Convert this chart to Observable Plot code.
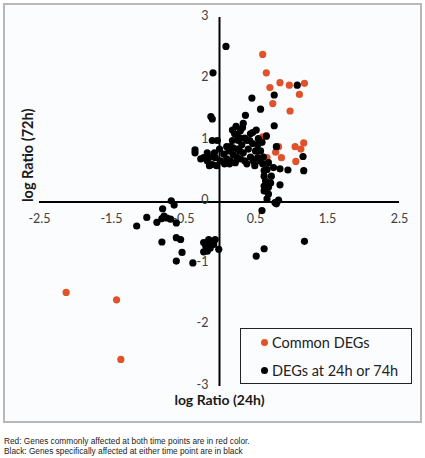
<!DOCTYPE html>
<html>
<head>
<meta charset="utf-8">
<script src="https://cdn.jsdelivr.net/npm/d3@7"></script>
<script src="https://cdn.jsdelivr.net/npm/@observablehq/plot@0.6"></script>
<style>
  html, body { margin: 0; padding: 0; background: #ffffff; }
  #wrap { position: relative; width: 425px; height: 458px; }
  #frame { position: absolute; left: 3px; top: 3px; width: 415px; height: 416px;
           border: 2px solid #b8b8b8; background: #fbfcfe; }
  #chart { position: absolute; left: 0; top: 0; }
  #legend { position: absolute; left: 240px; top: 328px; width: 170px; height: 54px;
            border: 1.3px solid #222; background: #fbfcfe;
            font-family: Lato, "Open Sans", sans-serif; font-size: 14.5px; color: #222; }
  .item { position: absolute; left: 20px; height: 18px; line-height: 18px; white-space: nowrap; }
  .dot { display: inline-block; width: 7px; height: 7px; border-radius: 50%; margin-right: 4px; vertical-align: 2px; }
  #caption { position: absolute; left: 4px; top: 437px; font-family: "Liberation Sans", Arial, sans-serif;
             font-size: 8.3px; line-height: 9.5px; color: #222; }
</style>
</head>
<body>
<div id="wrap">
  <div id="frame"></div>
  <div id="chart"></div>
  <div id="legend"></div>
  <div id="caption"></div>
</div>
<script>
// ---- data ----
const redX = [0.60, 0.65, 0.70, 0.84, 0.97, 1.18, 1.11, 0.74, 0.98, 0.60, 0.65, 0.66, 0.78, 0.82, 0.86, 1.05, 1.13, 1.17, 1.06, -2.13, -1.43, -1.37];
const redY = [2.40, 2.10, 1.86, 1.94, 1.90, 1.93, 1.75, 1.60, 1.48, 1.06, 1.08, 0.72, 0.81, 0.90, 0.72, 0.90, 0.86, 0.96, 0.66, -1.47, -1.59, -2.56];

const blackX = [0.09, -0.09, -0.12, -0.10, 0.45, 0.57, 0.36, 0.76, 1.08, 0.76,
  0.51, 0.43, 0.18, 0.23, 0.33, 0.32, -0.10, -0.34, -0.34, 0.65,
  0.79, 1.16, 1.17, 0.95, 0.84, 0.75, 0.84, 0.65, 0.66, 0.77,
  0.82, 0.79, 0.59, 0.62, 0.66, 0.62, 0.64, 0.71, 0.62, 0.62,
  0.68, 0.72, 0.68, 0.60, 0.68,
  -0.13, -0.17, -0.10, -0.06, 0.01, 0.06, 0.10, 0.13, 0.15, 0.19,
  0.22, 0.25, 0.26, 0.25, 0.29, 0.31, 0.33, 0.35, 0.38, 0.40,
  0.43, 0.46, 0.50, 0.53, 0.57, 0.54, 0.59, 0.61, 0.56, 0.46,
  0.15, 0.10, 0.00, -0.07, -0.17, -0.22, -0.26, -0.03, 0.18, 0.21,
  0.29, 0.24, 0.29, 0.38, 0.14, 0.07, -0.04, -0.14, 0.49, 0.53,
  0.19, 0.35, 0.42, 0.47, 0.28,
  -0.67, -0.63, -0.79, -0.77, -0.73, -0.68, -0.87, -1.01, -1.15, -0.60,
  -0.80, -0.80, -0.60, -0.54, -0.52, -0.60, -0.37,
  -0.22, -0.19, -0.15, -0.10, -0.08, -0.06, -0.22, -0.17, -0.13, -0.01, -0.15,
  0.51, 0.62, 1.18];
const blackY = [2.53, 2.10, 1.39, 1.35, 1.69, 1.51, 1.41, 1.74, 1.90, 1.24,
  1.17, 1.11, 1.17, 1.23, 1.28, 1.21, 1.00, 0.80, 0.85, 1.07,
  0.90, 0.74, 0.51, 0.52, 0.54, 0.56, 0.28, 0.18, 0.05, -0.01,
  0.03, -0.03, -0.14, 0.51, 0.53, 0.42, 0.34, 0.31, 0.26, 0.18,
  0.24, 0.42, 0.13, 0.62, 0.64,
  0.73, 0.67, 0.61, 0.72, 0.67, 0.78, 0.70, 0.83, 0.67, 0.77,
  0.64, 0.86, 1.00, 1.08, 1.16, 0.93, 0.80, 0.67, 1.00, 0.86,
  0.73, 0.95, 0.83, 0.93, 0.83, 1.03, 0.97, 0.73, 0.67, 1.13,
  0.90, 0.90, 0.86, 0.80, 0.80, 0.72, 0.70, 1.00, 1.00, 1.11,
  1.04, 0.73, 0.70, 0.62, 0.62, 0.62, 0.59, 0.59, 0.59, 0.72,
  0.88, 1.04, 1.00, 0.67, 0.83,
  0.02, -0.05, -0.11, -0.23, -0.26, -0.28, -0.33, -0.25, -0.39, -0.34,
  -0.27, -0.65, -0.58, -0.61, -0.82, -0.96, -0.99,
  -0.66, -0.72, -0.61, -0.64, -0.69, -0.61, -0.81, -0.80, -0.75, -0.77, -0.69,
  -0.88, -0.76, -0.64];

const xTicks = [-2.5, -1.5, -0.5, 0.5, 1.5, 2.5];
const yTicks = [-3, -2, -1, 0, 1, 2, 3];
const seriesNames = ["Common DEGs", "DEGs at 24h or 74h"];
const seriesColors = ["#e0522a", "#000000"];
const xTitle = "log Ratio (24h)";
const yTitle = "log Ratio (72h)";
const captionLines = [
  "Red: Genes commonly affected at both time points are in red color.",
  "Black: Genes specifically affected at either time point are in black"
];

const red = redX.map((x, i) => ({x, y: redY[i]}));
const black = blackX.map((x, i) => ({x, y: blackY[i]}));

const font = "Lato, 'Open Sans', sans-serif";

const chart = Plot.plot({
  width: 425,
  height: 425,
  marginLeft: 39,
  marginRight: 26,
  marginTop: 17,
  marginBottom: 39,
  style: {background: "transparent", fontFamily: font, overflow: "visible"},
  x: {domain: [-2.5, 2.5], axis: null},
  y: {domain: [-3, 3], axis: null},
  marks: [
    Plot.ruleX([0], {stroke: "#000", strokeWidth: 2}),
    Plot.ruleY([0], {stroke: "#000", strokeWidth: 2}),
    Plot.text(xTicks, {x: d => d, y: 0, text: d => String(d), dy: 17, fill: "#404040", fontSize: 12.5}),
    Plot.text(yTicks, {x: 0, y: d => d, text: d => String(d), dx: -11, dy: -2, textAnchor: "end", fill: "#404040", fontSize: 12.5}),
    Plot.dot(red, {x: "x", y: "y", r: 3.6, fill: seriesColors[0], stroke: "none"}),
    Plot.dot(black, {x: "x", y: "y", r: 3.6, fill: seriesColors[1], stroke: "none"}),
    Plot.text([xTitle], {frameAnchor: "bottom", text: d => d, dy: 18, fontWeight: "bold", fontSize: 14, fill: "#1a1a1a"}),
    Plot.text([yTitle], {frameAnchor: "left", text: d => d, dx: -11, rotate: -90, fontWeight: "bold", fontSize: 14.5, fill: "#1a1a1a"})
  ]
});
document.getElementById("chart").appendChild(chart);

const legend = document.getElementById("legend");
seriesNames.forEach((name, i) => {
  const item = document.createElement("div");
  item.className = "item";
  item.style.top = (i === 0 ? 5 : 33) + "px";
  const dot = document.createElement("span");
  dot.className = "dot";
  dot.style.background = seriesColors[i];
  item.appendChild(dot);
  item.appendChild(document.createTextNode(name));
  legend.appendChild(item);
});

document.getElementById("caption").innerHTML = captionLines.map(s => `<div>${s}</div>`).join("");
</script>
</body>
</html>
